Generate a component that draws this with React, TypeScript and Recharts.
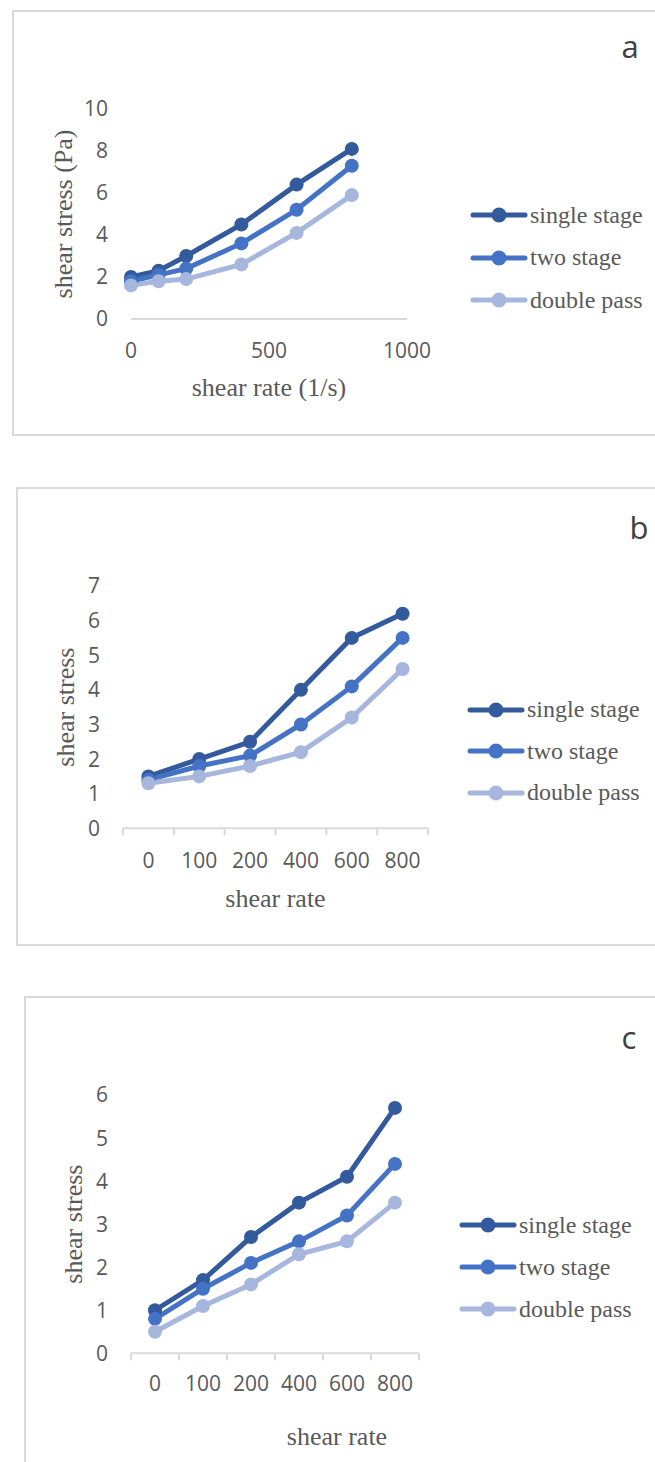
import React from "react";
import { LineChart, Line, XAxis, YAxis, Legend, Label } from "recharts";

const rates = [0, 100, 200, 400, 600, 800];
const seriesNames = ["single stage", "two stage", "double pass"];
const seriesColors = ["#325A9C", "#4473C5", "#A7B6DD"];

const singleA = [2.0, 2.3, 3.0, 4.5, 6.4, 8.1];
const twoA = [1.8, 2.1, 2.4, 3.6, 5.2, 7.3];
const doubleA = [1.6, 1.8, 1.9, 2.6, 4.1, 5.9];

const singleB = [1.5, 2.0, 2.5, 4.0, 5.5, 6.2];
const twoB = [1.4, 1.8, 2.1, 3.0, 4.1, 5.5];
const doubleB = [1.3, 1.5, 1.8, 2.2, 3.2, 4.6];

const singleC = [1.0, 1.7, 2.7, 3.5, 4.1, 5.7];
const twoC = [0.8, 1.5, 2.1, 2.6, 3.2, 4.4];
const doubleC = [0.5, 1.1, 1.6, 2.3, 2.6, 3.5];

const xTicksA = [0, 500, 1000];
const yTicksA = [0, 2, 4, 6, 8, 10];
const yTicksB = [0, 1, 2, 3, 4, 5, 6, 7];
const yTicksC = [0, 1, 2, 3, 4, 5, 6];

const toRows = (s: number[], t: number[], d: number[]) =>
  rates.map((r, i) => ({ rate: r, single: s[i], two: t[i], double: d[i] }));

const dataA = toRows(singleA, twoA, doubleA);
const dataB = toRows(singleB, twoB, doubleB);
const dataC = toRows(singleC, twoC, doubleC);

const keys = ["single", "two", "double"];
const gray = "#595959";
const axisGray = "#d9d9d9";
const tickFont = { fill: gray, fontSize: 21, fontFamily: "Open Sans" };
const titleStyle = { fill: gray, fontSize: 26, fontFamily: "Liberation Serif" };

function LegendBox(props: any) {
  const rowH = props.rowH;
  // keep the series order, not alphabetical
  const items = [...(props.payload || [])].sort(
    (a: any, b: any) => seriesNames.indexOf(a.value) - seriesNames.indexOf(b.value)
  );
  return (
    <div>
      {items.map((p: any, i: number) => (
        <div key={i} style={{ height: rowH, display: "flex", alignItems: "center" }}>
          <svg width={58} height={20} style={{ flex: "none" }}>
            <line x1={3} y1={10} x2={55} y2={10} stroke={p.color} strokeWidth={5} strokeLinecap="round" />
            <circle cx={29} cy={10} r={7.5} fill={p.color} />
          </svg>
          <span style={{ fontFamily: "Liberation Serif", fontSize: 24, color: gray, marginLeft: 2, whiteSpace: "nowrap" }}>
            {p.value}
          </span>
        </div>
      ))}
    </div>
  );
}

function CatTick(props: any) {
  const { x, y, payload, index, band, tickSize, tickGap, last } = props;
  const axisY = y - tickSize - tickGap;
  return (
    <g>
      <line x1={x - band / 2} y1={axisY} x2={x - band / 2} y2={axisY + tickSize} stroke={axisGray} strokeWidth={2} />
      {index === last && (
        <line x1={x + band / 2} y1={axisY} x2={x + band / 2} y2={axisY + tickSize} stroke={axisGray} strokeWidth={2} />
      )}
      <text x={x} y={y} dy="0.71em" textAnchor="middle" {...tickFont}>
        {payload.value}
      </text>
    </g>
  );
}

function Series() {
  return keys.map((k, i) => (
    <Line
      key={k}
      dataKey={k}
      name={seriesNames[i]}
      stroke={seriesColors[i]}
      strokeWidth={5}
      dot={{ r: 7, fill: seriesColors[i], stroke: seriesColors[i], strokeWidth: 0 }}
      activeDot={false}
      isAnimationActive={false}
    />
  ));
}

function Frame({ left, top, bottom }: { left: number; top: number; bottom: number }) {
  return (
    <div
      style={{
        position: "absolute",
        left,
        top,
        width: 700,
        height: bottom - top,
        border: `2px solid ${axisGray}`,
        boxSizing: "border-box",
      }}
    />
  );
}

function PanelLetter({ text, x, top }: { text: string; x: number; top: number }) {
  return (
    <div
      style={{
        position: "absolute",
        left: x,
        top,
        transform: "translateX(-50%)",
        fontFamily: "Open Sans",
        fontSize: 31,
        lineHeight: "30px",
        color: "#404040",
      }}
    >
      {text}
    </div>
  );
}

export default function App() {
  const bandB = (428 - 123) / 6;
  const bandC = (419 - 131) / 6;
  return (
    <div style={{ position: "absolute", left: 0, top: 0, width: 655, height: 1462, background: "#fff", overflow: "hidden" }}>
      <Frame left={12} top={10} bottom={436} />
      <Frame left={16} top={487} bottom={946} />
      <Frame left={24} top={996} bottom={1600} />
      <PanelLetter text="a" x={630} top={31} />
      <PanelLetter text="b" x={639} top={512} />
      <PanelLetter text="c" x={629} top={1022} />

      {/* panel a */}
      <div style={{ position: "absolute", left: 0, top: 0 }}>
        <LineChart width={655} height={440} data={dataA} margin={{ top: 109, right: 248, bottom: 91, left: 71 }}>
          <XAxis
            dataKey="rate"
            type="number"
            domain={[0, 1000]}
            ticks={xTicksA}
            interval={0}
            height={30}
            stroke={axisGray}
            strokeWidth={2}
            tickLine={false}
            tickSize={0}
            tickMargin={24}
            tick={tickFont}
          >
            <Label value="shear rate (1/s)" position="bottom" offset={29} style={titleStyle} />
          </XAxis>
          <YAxis
            domain={[0, 10]}
            ticks={yTicksA}
            interval={0}
            width={60}
            axisLine={false}
            tickLine={false}
            tickSize={0}
            tickMargin={23}
            tick={tickFont}
          >
            <Label value="shear stress (Pa)" position="center" angle={-90} dx={-38} style={titleStyle} />
          </YAxis>
          {Series()}
          <Legend
            layout="vertical"
            align="center"
            verticalAlign="middle"
            wrapperStyle={{ left: 470, top: 194, width: 190 }}
            content={(p: any) => <LegendBox {...p} rowH={42.5} />}
          />
        </LineChart>
      </div>

      {/* panel b */}
      <div style={{ position: "absolute", left: 0, top: 480 }}>
        <LineChart width={655} height={470} data={dataB} margin={{ top: 106, right: 227, bottom: 91.7, left: 63 }}>
          <XAxis
            dataKey="rate"
            type="category"
            interval={0}
            height={30}
            padding={{ left: bandB / 2, right: bandB / 2 }}
            stroke={axisGray}
            strokeWidth={2}
            tickLine={false}
            tickSize={7}
            tickMargin={18}
            tick={(p: any) => <CatTick {...p} band={bandB} tickSize={7} tickGap={18} last={rates.length - 1} />}
          >
            <Label value="shear rate" position="bottom" offset={30} style={titleStyle} />
          </XAxis>
          <YAxis
            domain={[0, 7]}
            ticks={yTicksB}
            interval={0}
            width={60}
            axisLine={false}
            tickLine={false}
            tickSize={0}
            tickMargin={23}
            tick={tickFont}
          >
            <Label value="shear stress" position="center" angle={-90} dx={-28} style={titleStyle} />
          </YAxis>
          {Series()}
          <Legend
            layout="vertical"
            align="center"
            verticalAlign="middle"
            wrapperStyle={{ left: 467, top: 209, width: 190 }}
            content={(p: any) => <LegendBox {...p} rowH={41.5} />}
          />
        </LineChart>
      </div>

      {/* panel c */}
      <div style={{ position: "absolute", left: 0, top: 960 }}>
        <LineChart width={655} height={502} data={dataC} margin={{ top: 135, right: 236, bottom: 78.7, left: 71 }}>
          <XAxis
            dataKey="rate"
            type="category"
            interval={0}
            height={30}
            padding={{ left: bandC / 2, right: bandC / 2 }}
            stroke={axisGray}
            strokeWidth={2}
            tickLine={false}
            tickSize={7}
            tickMargin={16}
            tick={(p: any) => <CatTick {...p} band={bandC} tickSize={7} tickGap={16} last={rates.length - 1} />}
          >
            <Label value="shear rate" position="bottom" offset={43} dx={62} style={titleStyle} />
          </XAxis>
          <YAxis
            domain={[0, 6]}
            ticks={yTicksC}
            interval={0}
            width={60}
            axisLine={false}
            tickLine={false}
            tickSize={0}
            tickMargin={23}
            tick={tickFont}
          >
            <Label value="shear stress" position="center" angle={-90} dx={-28} style={titleStyle} />
          </YAxis>
          {Series()}
          <Legend
            layout="vertical"
            align="center"
            verticalAlign="middle"
            wrapperStyle={{ left: 459, top: 244, width: 190 }}
            content={(p: any) => <LegendBox {...p} rowH={42} />}
          />
        </LineChart>
      </div>
    </div>
  );
}
